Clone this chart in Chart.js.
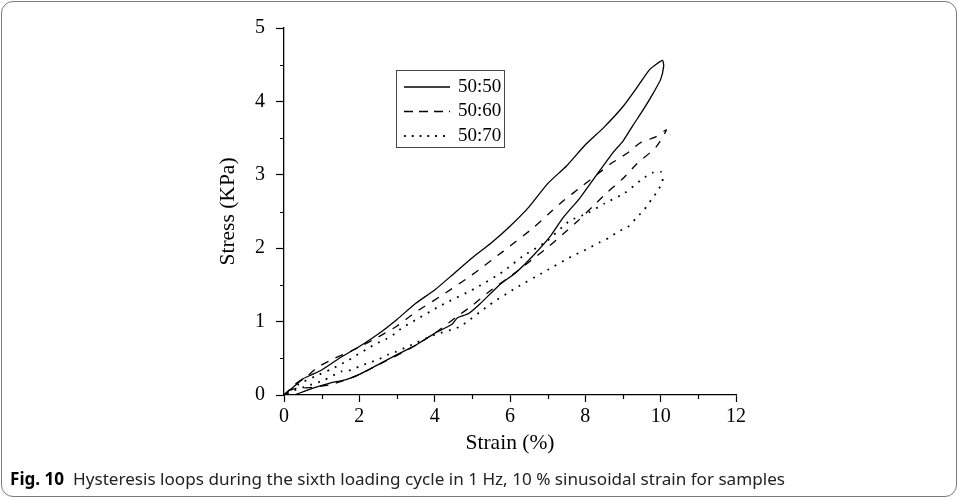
<!DOCTYPE html>
<html>
<head>
<meta charset="utf-8">
<title>Fig. 10 - Hysteresis loops</title>
<script src="https://cdn.jsdelivr.net/npm/chart.js@4.4.0/dist/chart.umd.min.js"></script>
<style>
    body { margin: 0; background: #fff; }
    #wrap { position: relative; width: 959px; height: 501px; overflow: hidden; }
    #frame { position: absolute; left: 1px; top: 1px; width: 954px; height: 494px;
             border: 1.5px solid #7a7a7a; border-radius: 12px; pointer-events: none; }
    #caption { position: absolute; left: 10px; top: 467px; white-space: nowrap;
               font-family: "Noto Sans", "Open Sans", sans-serif; font-size: 17px; color: #222;
               transform-origin: left center; }
    #caption b { color: #000; }
</style>
</head>
<body>
<div id="wrap">
    <canvas id="chart" width="959" height="501"></canvas>
    <div id="frame"></div>
    <div id="caption"><b>Fig. 10</b>&nbsp;&nbsp;Hysteresis loops during the sixth loading cycle in 1 Hz, 10 % sinusoidal strain for samples</div>
</div>
<script>
    // series names
    var seriesNames = ["50:50", "50:60", "50:70"];

    // 50:50 loop (loading then unloading)
    var strain5050 = [0, 0.25, 0.5, 0.75, 1.0, 1.5, 2.0, 2.5, 3.0, 3.5, 4.0, 4.5, 5.0, 5.5, 6.0, 6.5, 7.0, 7.5, 8.0, 8.5, 9.0, 9.4, 9.7, 9.92, 10.05, 10.08,
                      10.0, 9.8, 9.53, 9.26, 9.0, 8.73, 8.3, 7.85, 7.4, 7.05, 6.6, 6.16, 5.72, 5.2, 4.9, 4.6, 4.45, 4.0, 3.5, 3.0, 2.45, 2.0, 1.65, 1.2, 0.77, 0.28];
    var stress5050 = [0, 0.11, 0.22, 0.28, 0.34, 0.51, 0.66, 0.83, 1.03, 1.25, 1.43, 1.65, 1.87, 2.07, 2.30, 2.56, 2.88, 3.12, 3.41, 3.65, 3.93, 4.21, 4.43, 4.52, 4.56, 4.48,
                      4.3, 4.11, 3.88, 3.67, 3.46, 3.3, 3.0, 2.68, 2.41, 2.15, 1.89, 1.67, 1.5, 1.24, 1.11, 1.05, 0.96, 0.84, 0.68, 0.55, 0.40, 0.28, 0.21, 0.16, 0.095, 0];

    // 50:60 loop
    var strain5060 = [0, 0.3, 0.6, 0.9, 1.3, 1.7, 2.1, 2.5, 3.0, 3.5, 4.2, 5.0, 5.8, 6.6, 7.05, 7.45, 7.9, 8.3, 8.7, 9.13, 9.44, 9.88, 10.15,
                      9.88, 9.35, 9.0, 8.6, 8.2, 7.8, 7.4, 7.0, 6.55, 6.2, 5.4, 5.0, 4.57, 4.0, 3.3, 2.5, 2.0, 1.66, 1.22, 0.7, 0.38, 0.1, 0];
    var stress5060 = [0, 0.15, 0.25, 0.38, 0.49, 0.58, 0.68, 0.79, 0.94, 1.13, 1.36, 1.64, 1.95, 2.27, 2.48, 2.66, 2.84, 3.0, 3.16, 3.30, 3.43, 3.52, 3.61,
                      3.38, 3.14, 2.95, 2.77, 2.57, 2.37, 2.19, 2.01, 1.83, 1.69, 1.39, 1.22, 1.06, 0.84, 0.62, 0.41, 0.28, 0.21, 0.14, 0.10, 0.095, 0.06, 0.02];

    // 50:70 loop
    var strain5070 = [0, 0.4, 0.81, 1.25, 1.47, 1.7, 1.92, 2.18, 2.45, 2.7, 2.93, 3.15, 3.42, 4.13, 5.1, 5.81, 6.34, 6.96, 7.58, 8.07, 8.51, 9.04, 9.53, 9.79, 10.01, 10.05,
                      9.92, 9.75, 9.57, 9.35, 9.13, 8.89, 8.62, 8.38, 8.13, 7.89, 7.64, 6.92, 6.16, 5.46, 4.66, 4.0, 3.24, 2.98, 2.76, 2.53, 2.27, 2.0, 1.78, 1.52, 1.05, 0.6, 0.2, 0];
    var stress5070 = [0, 0.15, 0.25, 0.35, 0.41, 0.47, 0.54, 0.62, 0.70, 0.76, 0.83, 0.92, 1.0, 1.21, 1.46, 1.68, 1.89, 2.09, 2.37, 2.48, 2.61, 2.75, 2.95, 3.03, 3.04, 2.91,
                      2.78, 2.66, 2.53, 2.41, 2.29, 2.23, 2.14, 2.08, 2.01, 1.95, 1.89, 1.68, 1.46, 1.23, 0.93, 0.82, 0.65, 0.59, 0.55, 0.49, 0.44, 0.39, 0.34, 0.32, 0.2, 0.12, 0.05, 0];

    // axis ticks
    var xMajorTicks = [0, 2, 4, 6, 8, 10, 12];
    var xMinorTicks = [1, 3, 5, 7, 9, 11];
    var yMajorTicks = [0, 1, 2, 3, 4, 5];
    var yMinorTicks = [0.5, 1.5, 2.5, 3.5, 4.5];

    function toPoints(xs, ys) {
        var pts = [];
        for (var i = 0; i < xs.length; i++) {
            pts.push({ x: xs[i], y: ys[i] });
        }
        return pts;
    }

    var dashes = [[], [8, 8], [1.8, 6.5]];
    var legendDashes = [[], [9, 6], [1.8, 6]];

    var minorTicks = {
        id: 'minorTicks',
        afterDraw: function (chart) {
            var ctx = chart.ctx;
            var xs = chart.scales.x, ys = chart.scales.y;
            ctx.save();
            ctx.strokeStyle = '#000';
            ctx.lineWidth = 1.2;
            ctx.beginPath();
            xMinorTicks.forEach(function (v) {
                var p = Math.round(xs.getPixelForValue(v)) + 0.5;
                ctx.moveTo(p, ys.bottom);
                ctx.lineTo(p, ys.bottom + 4);
            });
            yMinorTicks.forEach(function (v) {
                var p = Math.round(ys.getPixelForValue(v)) + 0.5;
                ctx.moveTo(xs.left, p);
                ctx.lineTo(xs.left - 4, p);
            });
            ctx.stroke();
            ctx.restore();
        }
    };

    var boxLegend = {
        id: 'boxLegend',
        afterDraw: function (chart) {
            var ctx = chart.ctx;
            var left = chart.chartArea.left + 112, top = 70, w = 108, h = 77;
            ctx.save();
            ctx.strokeStyle = '#444';
            ctx.lineWidth = 1;
            ctx.strokeRect(left + 0.5, top + 0.5, w, h);
            ctx.font = "19px 'Liberation Serif', serif";
            ctx.fillStyle = '#000';
            ctx.textBaseline = 'middle';
            chart.data.datasets.forEach(function (ds, i) {
                var y = top + 17 + i * 24.5;
                ctx.beginPath();
                ctx.setLineDash(legendDashes[i]);
                ctx.lineWidth = i === 2 ? 1.8 : 1.4;
                ctx.strokeStyle = '#000';
                ctx.moveTo(left + 8, y);
                ctx.lineTo(left + 54, y);
                ctx.stroke();
                ctx.setLineDash([]);
                ctx.fillText(ds.label, left + 62, y);
            });
            ctx.restore();
        }
    };

    var ctx = document.getElementById('chart').getContext('2d');
    var myChart = new Chart(ctx, {
        type: 'scatter',
        data: {
            datasets: [
                { label: seriesNames[0], data: toPoints(strain5050, stress5050) },
                { label: seriesNames[1], data: toPoints(strain5060, stress5060) },
                { label: seriesNames[2], data: toPoints(strain5070, stress5070) }
            ].map(function (ds, i) {
                ds.showLine = true;
                ds.pointRadius = 0;
                ds.borderColor = '#000';
                ds.backgroundColor = '#000';
                ds.borderWidth = i === 2 ? 1.8 : 1.3;
                ds.borderDash = dashes[i];
                ds.tension = 0.2;
                ds.borderJoinStyle = 'round';
                return ds;
            })
        },
        options: {
            responsive: false,
            animation: false,
            layout: { padding: { left: 211, right: 223, top: 28, bottom: 41 } },
            plugins: { legend: { display: false }, tooltip: { enabled: false } },
            font: { family: "'Liberation Serif', serif" },
            scales: {
                x: {
                    type: 'linear', min: 0, max: 12,
                    afterBuildTicks: function (scale) { scale.ticks = xMajorTicks.map(function (v) { return { value: v }; }); },
                    afterFit: function (scale) { scale.height = 65; },
                    ticks: { color: '#000', padding: 3, font: { family: "'Liberation Serif', serif", size: 20 } },
                    grid: { drawOnChartArea: false, drawTicks: true, tickLength: 7, color: '#000', tickWidth: 1.2 },
                    border: { display: true, color: '#000', width: 1.3 },
                    title: { display: true, text: 'Strain (%)', color: '#000', font: { family: "'Liberation Serif', serif", size: 21.5 } }
                },
                y: {
                    type: 'linear', min: 0, max: 5,
                    afterBuildTicks: function (scale) { scale.ticks = yMajorTicks.map(function (v) { return { value: v }; }); },
                    afterFit: function (scale) { scale.width = 73; },
                    ticks: { color: '#000', padding: 11, font: { family: "'Liberation Serif', serif", size: 20 } },
                    grid: { drawOnChartArea: false, drawTicks: true, tickLength: 8, color: '#000', tickWidth: 1.2 },
                    border: { display: true, color: '#000', width: 1.3 },
                    title: { display: true, text: 'Stress (KPa)', color: '#000', font: { family: "'Liberation Serif', serif", size: 21.5 } }
                }
            }
        },
        plugins: [minorTicks, boxLegend]
    });

    // squeeze caption to the width it has in the figure
    var cap = document.getElementById('caption');
    var capW = cap.getBoundingClientRect().width;
    cap.style.transform = 'scaleX(' + (775 / capW) + ')';
</script>
</body>
</html>
